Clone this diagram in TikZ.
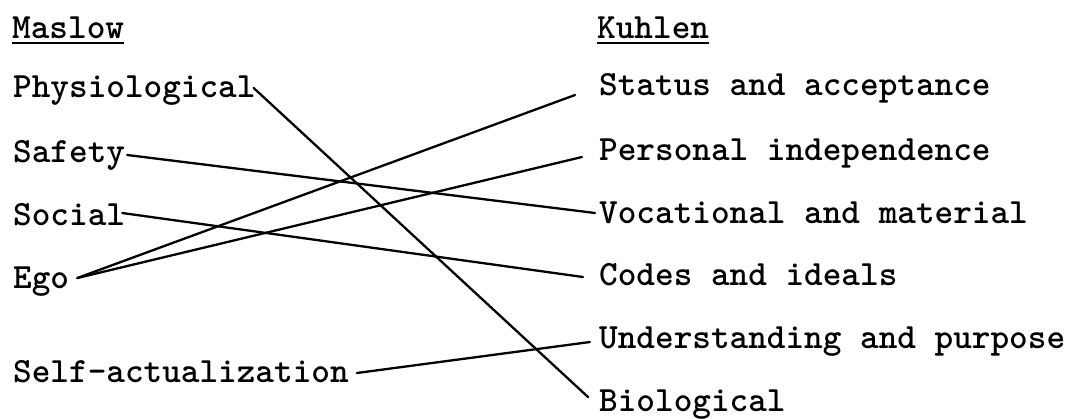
\documentclass[tikz,border=0pt]{standalone}
\usetikzlibrary{calc}
\begin{document}
\begin{tikzpicture}[x=1pt,y=-1pt,
  lbl/.style={anchor=base west,inner sep=0pt,font=\fontsize{35.5}{40}\selectfont\ttfamily\bfseries},
  link/.style={line width=2.3pt,line cap=round},
  uline/.style={line width=2.6pt}]
\useasboundingbox (0,0) rectangle (1081,418);
% headings
\node[lbl] (mas) at (12,38) {Maslow};
\node[lbl] (kuh) at (597,38) {Kuhlen};
\draw[uline] ($(mas.base west)+(0,5)$) -- ($(mas.base east)+(0,5)$);
\draw[uline] ($(kuh.base west)+(0,5)$) -- ($(kuh.base east)+(0,5)$);
% left column
\node[lbl] (phys) at (13,97) {Physiological};
\node[lbl] (safe) at (13,162) {Safety};
\node[lbl] (soc) at (13,225) {Social};
\node[lbl] (ego) at (13,288) {Ego};
\node[lbl] (self) at (13,382) {Self-actualization};
% right column
\node[lbl] (stat) at (599,95) {Status and acceptance};
\node[lbl] (pers) at (599,160) {Personal independence};
\node[lbl] (voc) at (599,223) {Vocational and material};
\node[lbl] (code) at (599,285) {Codes and ideals};
\node[lbl] (und) at (599,348) {Understanding and purpose};
\node[lbl] (bio) at (599,411) {Biological};
% connectors
\draw[link] ($(phys.base east)+(-2,-9)$) -- ($(bio.base west)+(-11,-14)$);
\draw[link] ($(safe.base east)+(2,-7)$) -- ($(voc.base west)+(-4,-10)$);
\draw[link] ($(soc.base east)+(-3,-12)$) -- ($(code.base west)+(-16,-8)$);
\draw[link] ($(ego.base east)+(8,-10)$) -- ($(stat.base west)+(-24,0)$);
\draw[link] ($(ego.base east)+(8,-10)$) -- ($(pers.base west)+(-17,-3)$);
\draw[link] ($(self.base east)+(8,-9)$) -- ($(und.base west)+(-9,-6)$);
\end{tikzpicture}
\end{document}
